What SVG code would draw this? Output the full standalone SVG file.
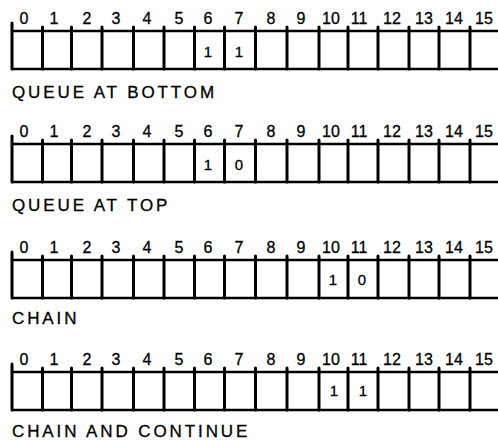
<svg xmlns="http://www.w3.org/2000/svg" width="498" height="442" viewBox="0 0 498 442">
<style>
.ln{stroke:#000;stroke-width:3;fill:none;stroke-linecap:round}
.hl{stroke:#000;stroke-width:2.6;fill:none}
.num{font-family:"Liberation Sans",Arial,sans-serif;font-size:16px;fill:#000;stroke:#000;stroke-width:0.3;text-anchor:middle}
.bit{font-family:"Liberation Sans",Arial,sans-serif;font-size:15px;fill:#000;stroke:#000;stroke-width:0.3;text-anchor:middle}
.lbl{font-family:"Liberation Sans",Arial,sans-serif;font-size:17px;fill:#000;stroke:#000;stroke-width:0.3;letter-spacing:2.9px}
</style>
<defs>
<g id="reg">
<path class="hl" d="M12 0H498M12 38H498"/>
<path class="ln" d="M12 -8V38M42.5 -4V38M71.5 -4V38M102 -4V38M133.5 -4V38M164 -4V38M194.5 -4V38M224.5 -4V38M255.5 -4V38M287 -4V38M319 -4V38M348 -4V38M378 -4V38M409 -4V38M439 -4V38M470 -4V38"/>
<g class="num">
<text x="24" y="-7">0</text><text x="54" y="-7">1</text><text x="87" y="-7">2</text><text x="116" y="-7">3</text><text x="147" y="-7">4</text><text x="179" y="-7">5</text><text x="208" y="-7">6</text><text x="239" y="-7">7</text><text x="271" y="-7">8</text><text x="301" y="-7">9</text><text x="331" y="-7">10</text><text x="359" y="-7">11</text><text x="392" y="-7">12</text><text x="424" y="-7">13</text><text x="454" y="-7">14</text><text x="484" y="-7">15</text>
</g>
</g>
</defs>
<g id="queue-at-bottom">
<use href="#reg" transform="translate(0,31)"/>
<text class="bit" x="208" y="57">1</text><text class="bit" x="239" y="57">1</text>
<text class="lbl" x="12" y="98">QUEUE AT BOTTOM</text>
</g>
<g id="queue-at-top">
<use href="#reg" transform="translate(0,144)"/>
<text class="bit" x="208" y="170">1</text><text class="bit" x="239" y="170">0</text>
<text class="lbl" x="12" y="211">QUEUE AT TOP</text>
</g>
<g id="chain">
<use href="#reg" transform="translate(0,260)"/>
<text class="bit" x="333" y="285">1</text><text class="bit" x="362" y="285">0</text>
<text class="lbl" x="12" y="324">CHAIN</text>
</g>
<g id="chain-and-continue">
<use href="#reg" transform="translate(0,372)"/>
<text class="bit" x="334" y="396">1</text><text class="bit" x="363" y="396">1</text>
<text class="lbl" x="12" y="437">CHAIN AND CONTINUE</text>
</g>
</svg>
